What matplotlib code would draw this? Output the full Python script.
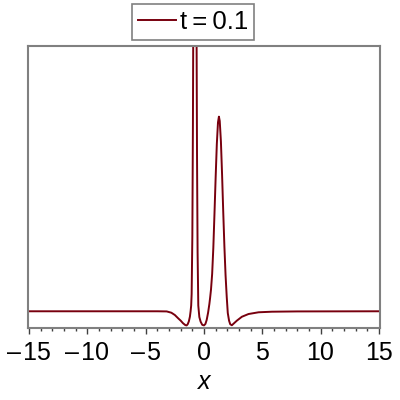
import matplotlib
matplotlib.use("Agg")
import matplotlib.pyplot as plt
from matplotlib.ticker import MultipleLocator

# Values
x_vals = [-15, -10, -5, -4, -3.2, -2.8, -2.5, -2.2, -2.0, -1.8, -1.6, -1.49,
          -1.4, -1.3, -1.21, -1.15, -1.1, -1.06, -1.0, -0.95, -0.9, -0.85,
          -0.78, -0.7, -0.65, -0.6, -0.55, -0.49, -0.4, -0.29, -0.15, 0.0,
          0.12, 0.23, 0.35, 0.46, 0.52, 0.6, 0.7, 0.8, 0.9, 1.0, 1.1, 1.2,
          1.28, 1.35, 1.45, 1.55, 1.65, 1.75, 1.85, 1.95, 2.04, 2.15, 2.25,
          2.39, 2.55, 2.82, 3.25, 3.82, 4.68, 5.83, 8, 15]
y_vals = [1.0, 1.0, 1.0, 1.0, 0.99, 0.9, 0.74, 0.5, 0.35, 0.17, 0.04, 0.02,
          0.1, 0.3, 0.62, 1.0, 1.4, 2.2, 6.2, 14.0, 25.7, 38.0,
          47.0, 36.0, 23.0, 12.0, 5.1, 1.4, 0.6, 0.28, 0.06, 0.02,
          0.12, 0.4, 0.9, 1.5, 1.9, 2.5, 3.6, 5.4, 7.8, 10.3, 12.6, 14.1,
          14.5, 14.2, 12.8, 10.5, 7.9, 5.5, 3.5, 2.0, 0.88, 0.35, 0.1,
          0.03, 0.15, 0.35, 0.62, 0.81, 0.93, 0.97, 0.99, 1.0]
series_label = "t\u2009=\u20090.1"
x_ticks = [-15, -10, -5, 0, 5, 10, 15]
x_tick_labels = ["\u2013\u200a15", "\u2013\u200a10", "\u2013\u200a5", "0", "5", "10", "15"]

plt.rcParams['font.family'] = ['Liberation Sans', 'DejaVu Sans']
fig = plt.figure(figsize=(4, 4), dpi=100)
ax = fig.add_axes([0.07, 0.18, 0.88, 0.705])

ax.plot(x_vals, y_vals, color="#78000E", lw=1.4, label=series_label)
ax.set_xlim(-15.1, 15.1)
ax.set_ylim(-0.16, 19.4)

for s in ax.spines.values():
    s.set_color("#808080")
    s.set_linewidth(1.5)

ax.set_xticks(x_ticks)
ax.set_xticklabels(x_tick_labels, fontsize=18)
ax.xaxis.set_minor_locator(MultipleLocator(1))
ax.tick_params(axis='x', which='major', length=4, width=1, color="#404040", pad=5)
ax.tick_params(axis='x', which='minor', length=2.5, width=1, color="#404040")
ax.set_yticks([])
ax.set_xlabel("x", fontsize=18, style="italic", labelpad=4)

leg = ax.legend(loc="lower center", bbox_to_anchor=(0.469, 1.02), fontsize=18.5,
                frameon=True, fancybox=False, framealpha=1, edgecolor="#808080",
                handlelength=1.45, handletextpad=0.15, borderpad=0.25,
                borderaxespad=0)
leg.get_frame().set_linewidth(1.2)

fig.savefig("out.png", dpi=100)
